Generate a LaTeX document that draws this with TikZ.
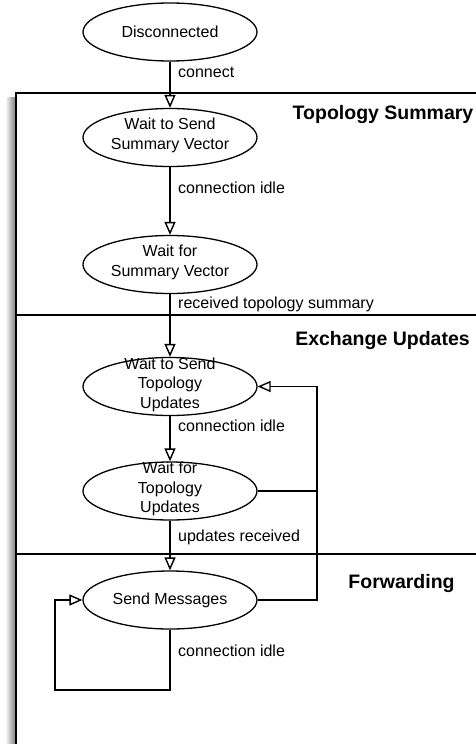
\documentclass[tikz,border=0pt]{standalone}
\usepackage{fontspec}
\setmainfont{Liberation Sans}
\usetikzlibrary{arrows.meta,shapes.geometric}
\begin{document}
\begin{tikzpicture}[x=1pt,y=-1pt,
  state/.style={ellipse,draw,line width=1.3pt,minimum width=174pt,minimum height=58pt,inner sep=0pt},
  stext/.style={inner sep=0pt,align=center,font=\fontsize{16}{19.5}\selectfont},
  lbl/.style={anchor=base west,inner sep=0pt,font=\fontsize{16}{19.5}\selectfont},
  ttl/.style={anchor=base,inner sep=0pt,font=\fontsize{19.5}{23}\selectfont\bfseries},
  conn/.style={line width=1.4pt},
  arr/.style={conn,-{Triangle[open,length=13pt,width=11pt,line width=1.4pt]}},
  frameline/.style={line width=2pt}]
\useasboundingbox (0,0) rectangle (476,744);
% shadow of the frame
\shade[left color=white,right color=black!50] (5,97) rectangle (15.5,744);
% frame and dividers
\draw[frameline] (16,744) -- (16,93) -- (476,93);
\draw[frameline] (16,315) -- (476,315);
\draw[frameline] (16,554) -- (476,554);
% section titles
\node[ttl] (t1) at (383,119) {Topology Summary};
\node[ttl] (t2) at (382.5,345) {Exchange Updates};
\node[ttl] (t3) at (401.5,588) {Forwarding};
% states
\node[state] (dis) at (170,32) {};
\node[stext] (dist) at (dis) {Disconnected};
\node[state] (wssv) at (170,137.5) {};
\node[stext,yshift=2pt] (wssvt) at (wssv) {Wait to Send\\Summary Vector};
\node[state] (wfsv) at (170,264.5) {};
\node[stext,yshift=2pt] (wfsvt) at (wfsv) {Wait for\\Summary Vector};
\node[state] (wstu) at (170,386.5) {};
\node[stext,yshift=2pt] (wstut) at (wstu) {Wait to Send\\Topology\\Updates};
\node[state] (wftu) at (170,491) {};
\node[stext,yshift=2pt] (wftut) at (wftu) {Wait for\\Topology\\Updates};
\node[state] (sm) at (170,600) {};
\node[stext] (smt) at (sm) {Send Messages};
% helper coordinates
\coordinate (rx) at (317,600);
\coordinate (lb) at (55,690);
% connectors
\draw[arr] (dis.south) -- (wssv.north);
\draw[arr] (wssv.south) -- (wfsv.north);
\draw[arr] (wfsv.south) -- (wstu.north);
\draw[arr] (wstu.south) -- (wftu.north);
\draw[arr] (wftu.south) -- (sm.north);
\draw[arr] (sm.east) -- (rx) |- (wstu.east);
\draw[conn] (wftu.east) -- (wftu.east -| rx);
\draw[arr] (sm.south) |- (lb) |- (sm.west);
% connector labels
\node[lbl] (l1) at (178,77) {connect};
\node[lbl] (l2) at (178,193) {connection idle};
\node[lbl] (l3) at (178,308) {received topology summary};
\node[lbl] (l4) at (178,431.5) {connection idle};
\node[lbl] (l5) at (178,541) {updates received};
\node[lbl] (l6) at (178,656) {connection idle};
\end{tikzpicture}
\end{document}
